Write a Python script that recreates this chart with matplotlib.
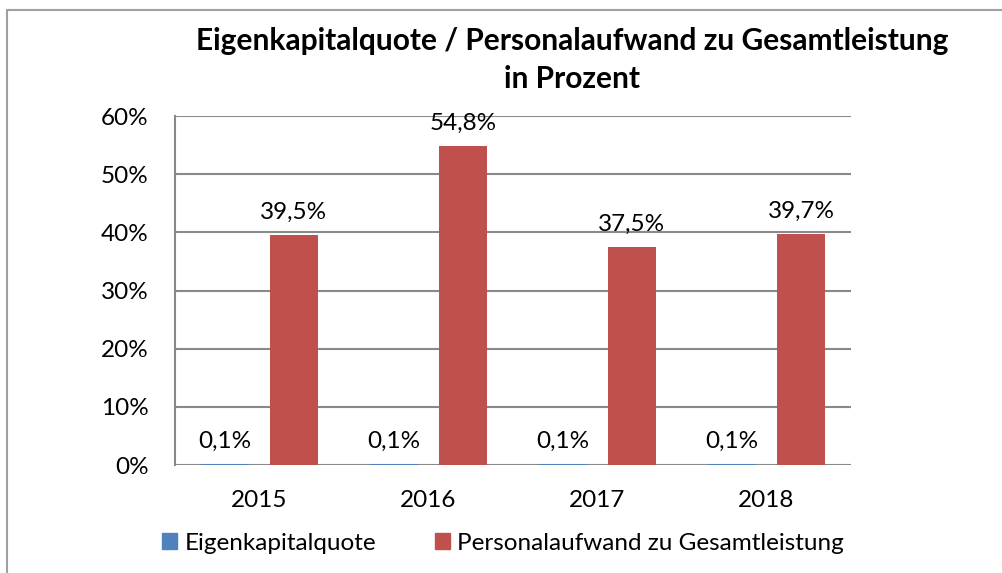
import matplotlib
matplotlib.use("Agg")
import matplotlib.pyplot as plt
from matplotlib.patches import Rectangle, Patch
import numpy as np

plt.rcParams['font.family'] = ['Lato', 'DejaVu Sans']

years = ["2015", "2016", "2017", "2018"]
eigenkapital = [0.1, 0.1, 0.1, 0.1]
personal = [39.5, 54.8, 37.5, 39.7]
series_names = ["Eigenkapitalquote", "Personalaufwand zu Gesamtleistung"]
yticks = [0, 10, 20, 30, 40, 50, 60]
title = "Eigenkapitalquote / Personalaufwand zu Gesamtleistung\nin Prozent"

blue = "#4F81BD"
red = "#C0504D"
grid_c = "#898989"

W, H = 1002, 573
fig = plt.figure(figsize=(W / 100, H / 100), dpi=100)

# outer border (left and top visible)
fig.patches.append(Rectangle((7 / W, -0.05), 1.2, (H - 10) / H + 0.05,
                             transform=fig.transFigure, fill=False,
                             edgecolor="#a0a0a0", linewidth=1.5))

ax = fig.add_axes([175 / W, (H - 465) / H, 676 / W, 349 / H])
x = np.arange(len(years))
bw = 0.284
off = 0.204
b1 = ax.bar(x - off, eigenkapital, bw, color=blue, zorder=3)
b2 = ax.bar(x + off, personal, bw, color=red, zorder=3)

def fmt(v):
    return f"{v:.1f}".replace(".", ",") + "%"

fs = 17.5
for bars, vals in ((b1, eigenkapital), (b2, personal)):
    for r, v in zip(bars, vals):
        ax.annotate(fmt(v), (r.get_x() + r.get_width() / 2, v),
                    xytext=(0, 9), textcoords="offset points",
                    ha="center", va="bottom", fontsize=fs, color="black")

ax.set_xlim(-0.5, len(years) - 0.5)
ax.set_ylim(0, 60)
ax.set_yticks(yticks)
ax.set_yticklabels([f"{t}%" for t in yticks])
ax.set_xticks(x)
ax.set_xticklabels(years)
ax.tick_params(axis="both", length=0, labelsize=fs)
ax.tick_params(axis="y", pad=19)
ax.tick_params(axis="x", pad=18)
ax.yaxis.grid(True, color=grid_c, linewidth=1.5, zorder=0)
ax.set_axisbelow(True)
for s in ("top", "right", "bottom"):
    ax.spines[s].set_visible(False)
ax.spines["left"].set_color(grid_c)
ax.spines["left"].set_linewidth(1.5)

fig.text(572 / W, 1 - 60 / H, title, ha="center", va="center",
         fontsize=21.5, fontweight="bold", linespacing=1.45)

handles = [Patch(color=blue), Patch(color=red)]
fig.legend(handles, series_names, loc="center", ncol=2,
           bbox_to_anchor=(503 / W, 1 - 543 / H), frameon=False,
           fontsize=fs, handlelength=0.62, handleheight=0.62,
           handletextpad=0.3, columnspacing=2.4)

fig.savefig("out.png", dpi=100)
